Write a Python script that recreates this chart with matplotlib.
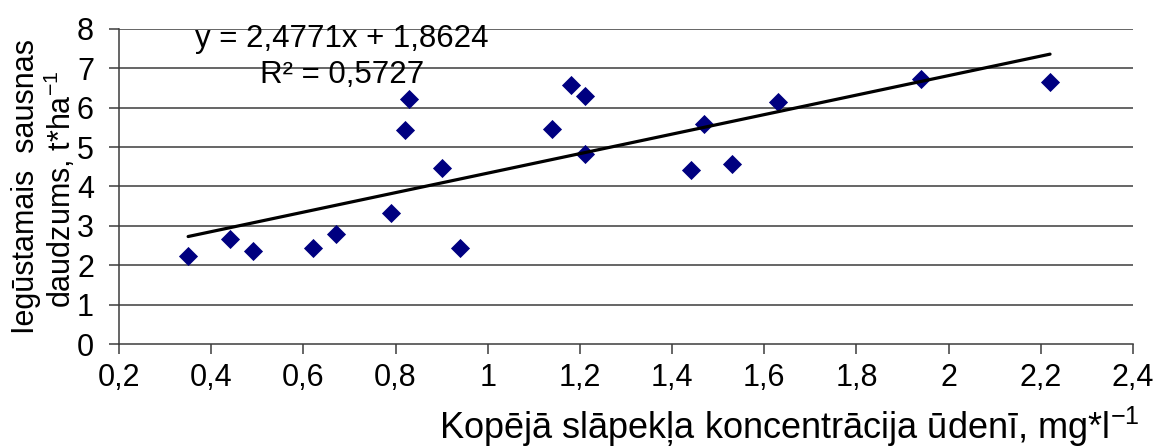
import numpy as np
import matplotlib
matplotlib.use("Agg")
import matplotlib.pyplot as plt
from matplotlib.ticker import FixedLocator, FuncFormatter

# data
concentration = [0.35, 0.44, 0.49, 0.62, 0.67, 0.79, 0.82, 0.83, 0.90, 0.94,
                 1.14, 1.18, 1.21, 1.21, 1.44, 1.47, 1.53, 1.63, 1.94, 2.22]
dry_matter = [2.23, 2.67, 2.35, 2.45, 2.80, 3.33, 5.44, 6.22, 4.47, 2.45,
              5.47, 6.57, 6.29, 4.83, 4.41, 5.58, 4.56, 6.15, 6.72, 6.66]

slope = 2.4771
intercept = 1.8624
r_squared = 0.5727

x_ticks = [0.2, 0.4, 0.6, 0.8, 1.0, 1.2, 1.4, 1.6, 1.8, 2.0, 2.2, 2.4]
y_ticks = [0, 1, 2, 3, 4, 5, 6, 7, 8]

plt.rcParams["font.family"] = ["Liberation Sans", "DejaVu Sans"]
plt.rcParams["mathtext.fontset"] = "custom"
plt.rcParams["mathtext.rm"] = "Liberation Sans"
plt.rcParams["mathtext.it"] = "Liberation Sans:italic"
plt.rcParams["mathtext.bf"] = "Liberation Sans:bold"
plt.rcParams["mathtext.default"] = "regular"

W, H = 1159, 448
fig = plt.figure(figsize=(W / 100, H / 100), dpi=100)
ax = fig.add_axes([119 / W, 1 - 344 / H, (1133 - 119) / W, (344 - 29) / H])

grid_col = "#3c3c3c"
for yv in y_ticks[1:]:
    ax.axhline(yv, color=grid_col, lw=1.1, zorder=1)

ax.scatter(concentration, dry_matter, marker="D", s=95, color="#000080",
           linewidths=0, zorder=3)

# linear trend line (Excel style)
tx = np.array([min(concentration), max(concentration)])
ax.plot(tx, slope * tx + intercept, color="black", lw=2.3, zorder=4,
        solid_capstyle="round")

ax.set_xlim(0.2, 2.4)
ax.set_ylim(0, 8)
ax.xaxis.set_major_locator(FixedLocator(x_ticks))
ax.yaxis.set_major_locator(FixedLocator(y_ticks))
fmt = FuncFormatter(lambda v, p: ("%g" % round(v, 1)).replace(".", ","))
ax.xaxis.set_major_formatter(fmt)
ax.yaxis.set_major_formatter(fmt)

for s in ["top", "right"]:
    ax.spines[s].set_visible(False)
for s in ["left", "bottom"]:
    ax.spines[s].set_color(grid_col)
    ax.spines[s].set_linewidth(1.1)
ax.tick_params(direction="out", length=7, width=1.1, color=grid_col,
               labelsize=22)
ax.tick_params(axis="x", pad=7)
ax.tick_params(axis="y", pad=11)

eq = "y = " + f"{slope}".replace(".", ",") + "x + " + f"{intercept}".replace(".", ",")
ax.text(0.684, 7.54, eq, ha="center", va="baseline", fontsize=22.5)
ax.text(0.684, 6.63, "R² = " + f"{r_squared}".replace(".", ","),
        ha="center", va="baseline", fontsize=22.5)

fig.text(1140 / W, 9 / H, "Kopējā slāpekļa koncentrācija ūdenī, mg*l$^{-1}$",
         ha="right", va="baseline", fontsize=26)
fig.text(26 / W, 1 - 186 / H, "Iegūstamais  sausnas", rotation=90,
         ha="center", va="center", fontsize=22)
fig.text(60 / W, 1 - 189 / H, "daudzums, t*ha$^{-1}$", rotation=90,
         ha="center", va="center", fontsize=22)

fig.savefig("out.png", dpi=100)
